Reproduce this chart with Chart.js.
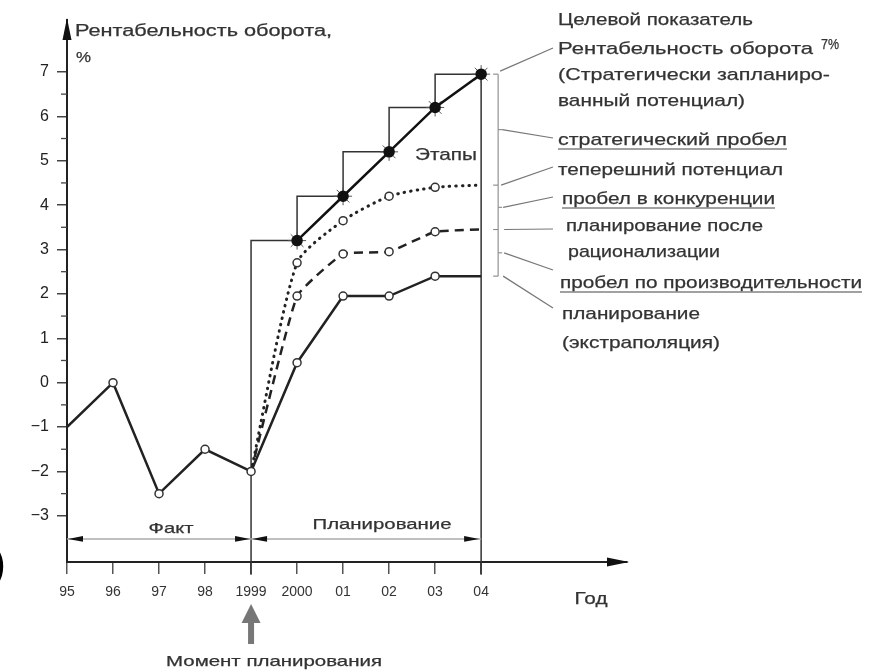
<!DOCTYPE html>
<html><head><meta charset="utf-8">
<script src="https://cdn.jsdelivr.net/npm/chart.js@4/dist/chart.umd.min.js"></script>
<style>html,body{margin:0;padding:0;background:#fff;overflow:hidden}#wrap{width:869px;height:672px;position:relative}</style>
</head><body><div id="wrap"><canvas id="c" width="869" height="672"></canvas></div>
<script>
// ---- data ----
const years = [1995,1996,1997,1998,1999,2000,2001,2002,2003,2004];
const xTickLabels = ['95','96','97','98','1999','2000','01','02','03','04'];
const yTickValues = [-3,-2,-1,0,1,2,3,4,5,6,7];
const factYears = [1995,1996,1997,1998,1999];
const factValues = [-1,0,-2.5,-1.5,-2];
const planYears = [1999,2000,2001,2002,2003,2004];
const extrapolation = [-2,0.45,1.95,1.95,2.4,2.4];
const rationalization = [-2,1.95,2.9,2.95,3.4,3.45];
const potential = [-2,2.7,3.65,4.2,4.4,4.45];
const stageYears = [2000,2001,2002,2003,2004];
const strategic = [3.2,4.2,5.2,6.2,6.95];
const planningYear = 1999, targetYear = 2004, firstYear = 1995;

// ---- text ----
const yTitle = 'Рентабельность оборота,';
const yUnit = '%';
const xTitle = 'Год';
const factLabel = 'Факт';
const planLabel = 'Планирование';
const stagesLabel = 'Этапы';
const momentLabel = 'Момент планирования';
const targetPct = '7%';
// [text, x, y, width, underline]
const notes = [
  ['Целевой показатель', 558, 20, 195, false],
  ['Рентабельность оборота', 558, 49, 255, false],
  ['(Стратегически запланиро-', 558, 75, 272, false],
  ['ванный потенциал)', 558, 101, 187, false],
  ['стратегический пробел', 558, 140, 229, true],
  ['теперешний потенциал', 558, 170, 225, false],
  ['пробел в конкуренции', 562, 199, 213, true],
  ['планирование после', 566, 226, 197, false],
  ['рационализации', 568, 252, 152, false],
  ['пробел по производительности', 560, 283, 302, true],
  ['планирование', 562, 314, 138, false],
  ['(экстраполяция)', 562, 343, 158, false]
];

const X_MIN = 1995, X_MAX = 2007.17, Y_MIN = -4.04, Y_MAX = 8.17;
const pts = (xs, ys) => xs.map((x, i) => ({x, y: ys[i]}));
const below = Y_MIN - 0.29;
const stepsData = [{x: planningYear, y: below}, ...pts(stageYears, strategic), {x: targetYear, y: below}];

Chart.defaults.font.family = '"Liberation Sans", Arial, sans-serif';
Chart.defaults.color = '#333';

function fitText(ctx, s, x, y, size, width, align) {
  ctx.save();
  ctx.font = size + 'px "Liberation Sans", Arial, sans-serif';
  const w = ctx.measureText(s).width;
  const sx = width ? width / w : 1;
  let x0 = x;
  if (align === 'center') x0 = x - (width || w) / 2;
  ctx.translate(x0, y);
  ctx.scale(sx, 1);
  ctx.textAlign = 'left';
  ctx.textBaseline = 'middle';
  ctx.lineWidth = 0.25;
  ctx.strokeStyle = ctx.fillStyle;
  ctx.fillText(s, 0, 0);
  ctx.strokeText(s, 0, 0);
  ctx.restore();
}
function tri(ctx, ax, ay, bx, by, cx, cy) {
  ctx.beginPath(); ctx.moveTo(ax, ay); ctx.lineTo(bx, by); ctx.lineTo(cx, cy); ctx.closePath(); ctx.fill();
}

const decor = {
  id: 'decor',
  afterDraw(chart) {
    const ctx = chart.ctx, xs = chart.scales.x, ys = chart.scales.y, ca = chart.chartArea;
    const X = v => xs.getPixelForValue(v), Y = v => ys.getPixelForValue(v);
    ctx.save();
    // minor y ticks
    ctx.strokeStyle = '#444'; ctx.lineWidth = 1.3;
    for (let v = -2.5; v <= 6.5; v += 1) {
      ctx.beginPath(); ctx.moveTo(ca.left - 6, Y(v)); ctx.lineTo(ca.left, Y(v)); ctx.stroke();
    }
    // axis arrows
    ctx.fillStyle = '#111';
    tri(ctx, ca.left, ca.top - 2, ca.left - 4.5, ca.top + 20, ca.left + 4.5, ca.top + 20);
    tri(ctx, ca.right + 2, ca.bottom, ca.right - 20, ca.bottom - 4.5, ca.right - 20, ca.bottom + 4.5);

    // period double arrows
    const yA = Y(-3.52);
    ctx.strokeStyle = '#aaa'; ctx.lineWidth = 1.5;
    ctx.beginPath(); ctx.moveTo(X(firstYear), yA); ctx.lineTo(X(targetYear), yA); ctx.stroke();
    ctx.fillStyle = '#111';
    const ah = 15, aw = 2.8;
    tri(ctx, X(firstYear) + 1, yA, X(firstYear) + 1 + ah, yA - aw, X(firstYear) + 1 + ah, yA + aw);
    tri(ctx, X(planningYear) - 1, yA, X(planningYear) - 1 - ah, yA - aw, X(planningYear) - 1 - ah, yA + aw);
    tri(ctx, X(planningYear) + 1, yA, X(planningYear) + 1 + ah, yA - aw, X(planningYear) + 1 + ah, yA + aw);
    tri(ctx, X(targetYear) - 2, yA, X(targetYear) - 2 - ah, yA - aw, X(targetYear) - 2 - ah, yA + aw);

    // planning moment arrow
    const xp = X(planningYear);
    ctx.fillStyle = '#777';
    ctx.fillRect(xp - 3, ca.bottom + 58, 6, 24);
    tri(ctx, xp, ca.bottom + 42, xp - 9.5, ca.bottom + 61, xp + 9.5, ca.bottom + 61);

    // bracket
    const bx = X(targetYear) + 17;
    const lv = [strategic[strategic.length - 1], potential[potential.length - 1], rationalization[rationalization.length - 1], extrapolation[extrapolation.length - 1]];
    ctx.strokeStyle = '#888'; ctx.lineWidth = 1.1;
    ctx.beginPath(); ctx.moveTo(bx, Y(lv[0])); ctx.lineTo(bx, Y(lv[3])); ctx.stroke();
    lv.forEach(v => { ctx.beginPath(); ctx.moveTo(bx - 5, Y(v)); ctx.lineTo(bx, Y(v)); ctx.stroke(); });
    for (let i = 0; i < 3; i++) {
      const m = (lv[i] + lv[i + 1]) / 2;
      ctx.beginPath(); ctx.moveTo(bx, Y(m)); ctx.lineTo(bx + 4, Y(m)); ctx.stroke();
    }
    // connectors: level -> note line
    const lx = 553;
    const conn = [
      [X(targetYear) + 19, Y(lv[0]) - 3, 48],
      [bx + 4, Y((lv[0] + lv[1]) / 2), 138],
      [bx + 3, Y(lv[1]), 167],
      [bx + 5, Y((lv[1] + lv[2]) / 2), 197],
      [bx + 6, Y(lv[2]), 229],
      [bx + 6, Y((lv[2] + lv[3]) / 2), 270],
      [bx + 5, Y(lv[3]), 308]
    ];
    ctx.strokeStyle = '#777'; ctx.lineWidth = 1.2;
    conn.forEach(c => { ctx.beginPath(); ctx.moveTo(c[0], c[1]); ctx.lineTo(lx, c[2]); ctx.stroke(); });

    // texts
    ctx.fillStyle = '#333';
    notes.forEach(n => {
      fitText(ctx, n[0], n[1], n[2], 17, n[3], 'left');
      if (n[4]) {
        ctx.strokeStyle = '#444'; ctx.lineWidth = 1.2;
        ctx.beginPath(); ctx.moveTo(n[1], n[2] + 9); ctx.lineTo(n[1] + n[3], n[2] + 9); ctx.stroke();
      }
    });
    fitText(ctx, targetPct, 821, 45, 14, 18, 'left');
    fitText(ctx, yTitle, 75, 32, 16, 257, 'left');
    fitText(ctx, yUnit, 76, 58, 15, 15, 'left');
    fitText(ctx, stagesLabel, 415, 155, 17, 62, 'left');
    fitText(ctx, factLabel, 171, 529, 15, 45, 'center');
    fitText(ctx, planLabel, 382, 525, 15, 139, 'center');
    fitText(ctx, xTitle, 591, 599, 17, 33, 'center');
    fitText(ctx, momentLabel, 274, 662, 15, 216, 'center');
    ctx.font = 'bold 36px "Liberation Sans", Arial, sans-serif';
    ctx.textAlign = 'right'; ctx.textBaseline = 'middle'; ctx.fillStyle = '#000';
    ctx.fillText(')', 5, 566);
    ctx.restore();
  }
};

const circle = {pointStyle: 'circle', pointBackgroundColor: '#fff', pointBorderColor: '#333', pointBorderWidth: 1.5};
const r0 = [0, 4, 4, 4, 4, 0];

new Chart(document.getElementById('c'), {
  type: 'line',
  data: {
    datasets: [
      Object.assign({data: pts(factYears, factValues), borderColor: '#222', borderWidth: 2.5, pointRadius: [0, 4, 4, 4, 4]}, circle),
      Object.assign({data: pts(planYears, extrapolation), borderColor: '#222', borderWidth: 2.5, pointRadius: r0}, circle),
      Object.assign({data: pts(planYears, rationalization), borderColor: '#222', borderWidth: 2.5, borderDash: [9, 6], pointRadius: r0, tension: 0.12}, circle),
      Object.assign({data: pts(planYears, potential), borderColor: '#222', borderWidth: 3, borderDash: [0.5, 6], borderCapStyle: 'round', pointRadius: r0, tension: 0.22}, circle),
      {data: pts(stageYears, strategic), borderColor: '#111', borderWidth: 2.5, pointRadius: 4.5, pointBackgroundColor: '#111', pointBorderColor: '#111'},
      {data: pts(stageYears, strategic), showLine: false, pointStyle: 'star', pointRadius: 9, pointBorderWidth: 1, pointBorderColor: '#555'},
      {data: stepsData, stepped: 'after', borderColor: '#333', borderWidth: 1.5, pointRadius: 0, clip: false}
    ]
  },
  options: {
    responsive: false, animation: false, devicePixelRatio: 1,
    layout: {padding: {left: 0, top: 20, right: 242, bottom: 0}},
    plugins: {legend: {display: false}, tooltip: {enabled: false}},
    scales: {
      x: {
        type: 'linear', min: X_MIN, max: X_MAX,
        afterBuildTicks: s => { s.ticks = years.map(v => ({value: v})); },
        afterFit: s => { s.height = 110; },
        grid: {drawOnChartArea: false, tickLength: 12, color: '#555', lineWidth: 1.5},
        border: {color: '#222', width: 2},
        ticks: {callback: v => xTickLabels[years.indexOf(v)], padding: 10, color: '#333', font: {size: 14}, autoSkip: false, maxRotation: 0}
      },
      y: {
        min: Y_MIN, max: Y_MAX,
        afterBuildTicks: s => { s.ticks = yTickValues.map(v => ({value: v})); },
        afterFit: s => { s.width = 67; },
        grid: {drawOnChartArea: false, tickLength: 10, color: '#444', lineWidth: 1.5},
        border: {color: '#222', width: 2},
        ticks: {callback: v => (v < 0 ? '\u2212' + Math.abs(v) : String(v)), padding: 8, color: '#222', font: {size: 16}}
      }
    }
  },
  plugins: [decor]
});
</script></body></html>
